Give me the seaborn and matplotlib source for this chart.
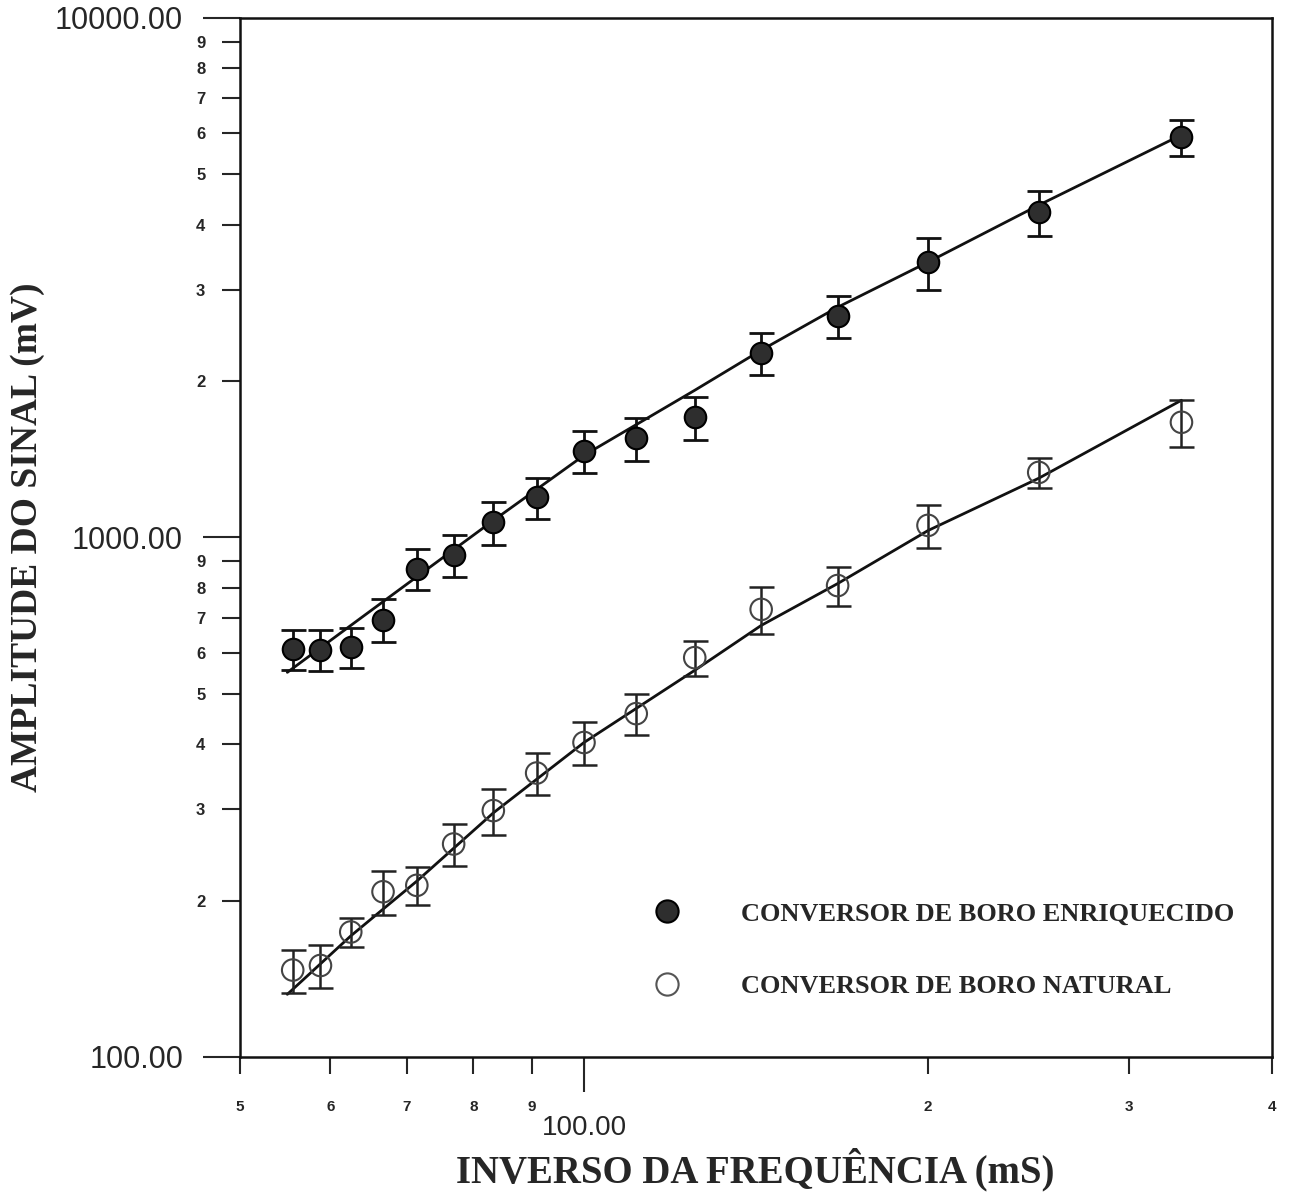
import numpy as np
import pandas as pd
import matplotlib
matplotlib.use("Agg")
import matplotlib.pyplot as plt
import seaborn as sns
from matplotlib.ticker import FixedLocator, FixedFormatter
from matplotlib.lines import Line2D

# inverse frequency (mS) - same for both converters
x_vals = [55.6, 58.8, 62.5, 66.7, 71.4, 76.9, 83.3, 90.9, 100.0, 111.1, 125.0, 142.9, 166.7, 200.0, 250.0, 333.3]

# enriched boron converter
enr_amp = [610, 608, 615, 695, 871, 924, 1069, 1194, 1465, 1551, 1703, 2262, 2666, 3388, 4232, 5895]
enr_err = [55, 55, 55, 65, 80, 85, 100, 110, 135, 145, 160, 210, 250, 390, 420, 480]

# natural boron converter
nat_amp = [147, 150, 174, 208, 214, 257, 298, 352, 403, 458, 587, 727, 808, 1055, 1334, 1666]
nat_err = [14, 14, 11, 20, 18, 24, 30, 32, 38, 42, 45, 75, 70, 100, 90, 170]

# fitted curves
fit_x = [55.0, 62.5, 71.4, 83.3, 100.0, 125.0, 142.9, 166.7, 200.0, 250.0, 333.3]
enr_fit = [550, 677, 840, 1078, 1439, 1920, 2293, 2774, 3388, 4361, 5954]
nat_fit = [132, 171, 218, 295, 403, 555, 677, 815, 1031, 1300, 1837]

legend_labels = ["CONVERSOR DE BORO ENRIQUECIDO", "CONVERSOR DE BORO NATURAL"]

sns.set_style("ticks")
plt.rcParams['font.family'] = ['Liberation Sans', 'DejaVu Sans']
serif = ['Liberation Serif', 'DejaVu Serif']

fig = plt.figure(figsize=(12.89, 11.95), dpi=100)
ax = fig.add_axes([0.1862, 0.1155, 0.8006, 0.8695])

df_fit = pd.DataFrame({"x": fit_x * 2, "y": enr_fit + nat_fit,
                       "serie": ["enr"] * len(fit_x) + ["nat"] * len(fit_x)})
sns.lineplot(data=df_fit, x="x", y="y", units="serie", estimator=None,
             color="#111111", lw=2.0, ax=ax, legend=False)

ax.errorbar(x_vals, enr_amp, yerr=enr_err, fmt="none", ecolor="#111111",
            elinewidth=2, capsize=9, capthick=2, zorder=3)
ax.errorbar(x_vals, nat_amp, yerr=nat_err, fmt="none", ecolor="#222222",
            elinewidth=1.8, capsize=9, capthick=1.8, zorder=3)

sns.scatterplot(x=x_vals, y=enr_amp, s=240, color="#2e2e2e", edgecolor="#000000",
                linewidth=1.5, ax=ax, zorder=4)
sns.scatterplot(x=x_vals, y=nat_amp, s=240, facecolor="none", edgecolor="#444444",
                linewidth=1.5, ax=ax, zorder=4)

ax.set_xscale("log")
ax.set_yscale("log")
ax.set_xlim(50, 400)
ax.set_ylim(100, 10000)

# y ticks
ax.yaxis.set_major_locator(FixedLocator([100, 1000, 10000]))
ax.yaxis.set_major_formatter(FixedFormatter(["100.00", "1000.00", "10000.00"]))
y_minor = [d * 10 ** e for e in (2, 3) for d in range(2, 10)]
ax.yaxis.set_minor_locator(FixedLocator(y_minor))
ax.yaxis.set_minor_formatter(FixedFormatter([str(d) for e in (2, 3) for d in range(2, 10)]))

# x ticks
ax.xaxis.set_major_locator(FixedLocator([100]))
ax.xaxis.set_major_formatter(FixedFormatter(["100.00"]))
x_minor = [50, 60, 70, 80, 90, 200, 300, 400]
ax.xaxis.set_minor_locator(FixedLocator(x_minor))
ax.xaxis.set_minor_formatter(FixedFormatter(["5", "6", "7", "8", "9", "2", "3", "4"]))

ax.tick_params(axis="y", which="major", direction="out", length=27, width=1.5,
               labelsize=22, pad=14)
ax.tick_params(axis="y", which="minor", direction="out", length=13, width=1.5,
               labelsize=12, pad=12)
ax.tick_params(axis="x", which="major", direction="out", length=25, width=1.5,
               labelsize=20, pad=17)
ax.tick_params(axis="x", which="minor", direction="out", length=12, width=1.5,
               labelsize=11, pad=19)
for lab in ax.yaxis.get_minorticklabels() + ax.xaxis.get_minorticklabels():
    lab.set_fontweight("bold")

for sp in ax.spines.values():
    sp.set_linewidth(1.8)
    sp.set_color("#111111")

ax.set_xlabel("INVERSO DA FREQUÊNCIA (mS)", family=serif, fontweight="bold",
              fontsize=28)
ax.set_ylabel("AMPLITUDE DO SINAL (mV)", family=serif, fontweight="bold",
              fontsize=27)
ax.xaxis.set_label_coords(0.499, -0.087)
ax.yaxis.set_label_coords(-0.189, 0.5)

handles = [
    Line2D([], [], ls="none", marker="o", ms=16, mfc="#2e2e2e", mec="#000000", mew=1.5),
    Line2D([], [], ls="none", marker="o", ms=16, mfc="none", mec="#555555", mew=1.5),
]
ax.legend(handles, legend_labels, loc="upper left", bbox_to_anchor=(0.372, 0.172),
          frameon=False, handlelength=1.5, handletextpad=2.05, labelspacing=1.87,
          prop={"family": serif, "weight": "bold", "size": 19})

fig.savefig("out.png", dpi=100)
